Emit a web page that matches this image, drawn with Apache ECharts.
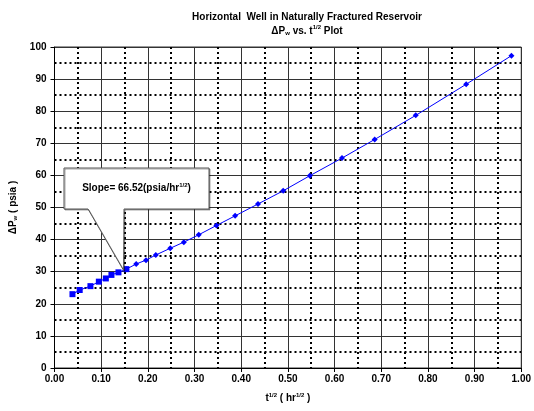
<!DOCTYPE html>
<html>
<head>
<meta charset="utf-8">
<script src="https://cdn.jsdelivr.net/npm/echarts@6/dist/echarts.min.js"></script>
<style>
html,body{margin:0;padding:0;background:#fff;}
#c{width:534px;height:411px;}
</style>
</head>
<body>
<div id="c"></div>
<script>
// Early-time data (square markers)
const tEarly = [0.0385, 0.054, 0.077, 0.095, 0.110, 0.122, 0.137, 0.154];
const pEarly = [23.0, 24.3, 25.5, 26.9, 27.9, 29.0, 29.8, 30.8];
// Later data (diamond markers)
const tLate = [0.154, 0.175, 0.196, 0.217, 0.248, 0.277, 0.309, 0.347, 0.387, 0.436, 0.490, 0.547, 0.616, 0.686, 0.774, 0.882, 0.979];
const pLate = [30.8, 32.4, 33.6, 35.2, 37.3, 39.2, 41.5, 44.4, 47.4, 51.1, 55.2, 59.9, 65.4, 71.2, 78.7, 88.4, 97.3];
const xTicks = ['0.00','0.10','0.20','0.30','0.40','0.50','0.60','0.70','0.80','0.90','1.00'];
const slopeText = 'Slope= 66.52(psia/hr';
const calloutPoint = [0.148, 30.4];

const FONT = '"Liberation Sans", Arial, sans-serif';
const chart = echarts.init(document.getElementById('c'), null, {renderer: 'canvas'});

const early = tEarly.map((t, i) => [t, pEarly[i]]);
const late = tLate.map((t, i) => [t, pLate[i]]);

const option = {
  backgroundColor: '#fff',
  animation: false,
  title: {
    text: 'Horizontal  Well in Naturally Fractured Reservoir\n{b|ΔP}{sub|w}{b| vs. t}{sup|1/2}{b| Plot}',
    left: 302, top: 5, textAlign: 'center',
    textStyle: {
      fontFamily: FONT, fontSize: 10, fontWeight: 'bold', color: '#000', lineHeight: 14,
      rich: {
        b: {fontFamily: FONT, fontSize: 10, fontWeight: 'bold', color: '#000'},
        sub: {fontFamily: FONT, fontSize: 6, fontWeight: 'bold', color: '#000', padding: [5, 0, 0, 0]},
        sup: {fontFamily: FONT, fontSize: 6, fontWeight: 'bold', color: '#000', padding: [0, 0, 7, 0]}
      }
    }
  },
  grid: {left: 52, right: 9, top: 47, bottom: 43, show: true, borderColor: '#333', borderWidth: 1},
  xAxis: {
    type: 'value', min: 0, max: 1, interval: 0.1,
    name: '{b|t}{sup|1/2}{b| ( hr}{sup|1/2}{b| )}',
    nameLocation: 'middle', nameGap: 24,
    nameTextStyle: {
      rich: {
        b: {fontFamily: FONT, fontSize: 10, fontWeight: 'bold', color: '#000'},
        sup: {fontFamily: FONT, fontSize: 6, fontWeight: 'bold', color: '#000', padding: [0, 0, 7, 0]}
      }
    },
    axisLine: {show: true, onZero: false, lineStyle: {color: '#000', width: 1}},
    axisTick: {show: true, length: 4, inside: false, lineStyle: {color: '#000'}},
    axisLabel: {fontFamily: FONT, fontSize: 10, fontWeight: 'bold', color: '#000', margin: 6,
      formatter: (v) => xTicks[Math.round(v * 10)]},
    splitLine: {show: true, lineStyle: {color: '#333', width: 1}},
    minorTick: {show: false, splitNumber: 2},
    minorSplitLine: {show: true, lineStyle: {color: '#000', width: 2, type: [2, 3]}}
  },
  yAxis: {
    type: 'value', min: 0, max: 100, interval: 10,
    name: '{b|ΔP}{sub|w}{b| ( psia )}',
    nameLocation: 'middle', nameGap: 36, nameRotate: 90,
    nameTextStyle: {
      rich: {
        b: {fontFamily: FONT, fontSize: 10, fontWeight: 'bold', color: '#000'},
        sub: {fontFamily: FONT, fontSize: 6, fontWeight: 'bold', color: '#000', padding: [5, 0, 0, 0]}
      }
    },
    axisLine: {show: true, onZero: false, lineStyle: {color: '#000', width: 1}},
    axisTick: {show: true, length: 4, inside: false, lineStyle: {color: '#000'}},
    axisLabel: {fontFamily: FONT, fontSize: 10, fontWeight: 'bold', color: '#000', margin: 8},
    splitLine: {show: true, lineStyle: {color: '#333', width: 1}},
    minorTick: {show: false, splitNumber: 2},
    minorSplitLine: {show: true, lineStyle: {color: '#000', width: 2, type: [2, 3]}}
  },
  series: [
    {
      type: 'line', data: late, symbol: 'diamond', symbolSize: 6,
      lineStyle: {color: '#0000FF', width: 1}, itemStyle: {color: '#0000FF'}, z: 3
    },
    {
      type: 'line', data: early, symbol: 'rect', symbolSize: 6,
      lineStyle: {color: '#0000FF', width: 1}, itemStyle: {color: '#0000FF'}, z: 4
    }
  ]
};
chart.setOption(option);

const tip = chart.convertToPixel({xAxisIndex: 0, yAxisIndex: 0}, calloutPoint);
const bx0 = 64, bx1 = 209, by0 = 168, by1 = 209;
chart.setOption({
  graphic: [
    {
      type: 'polygon', z: 100,
      shape: {points: [[bx0, by0], [bx1, by0], [bx1, by1], [124, by1], tip, [88, by1], [bx0, by1]]},
      style: {fill: '#fff', stroke: '#555', lineWidth: 1,
        shadowColor: 'rgba(0,0,0,0.35)', shadowOffsetX: 1, shadowOffsetY: 1, shadowBlur: 0}
    },
    {
      type: 'text', z: 101,
      x: (bx0 + bx1) / 2, y: (by0 + by1) / 2,
      style: {
        text: '{b|' + slopeText + '}{sup|1/2}{b|)}',
        align: 'center', verticalAlign: 'middle',
        rich: {
          b: {fontFamily: FONT, fontSize: 10, fontWeight: 'bold', fill: '#000'},
          sup: {fontFamily: FONT, fontSize: 6, fontWeight: 'bold', fill: '#000', padding: [0, 0, 7, 0]}
        }
      }
    }
  ]
});
</script>
</body>
</html>
